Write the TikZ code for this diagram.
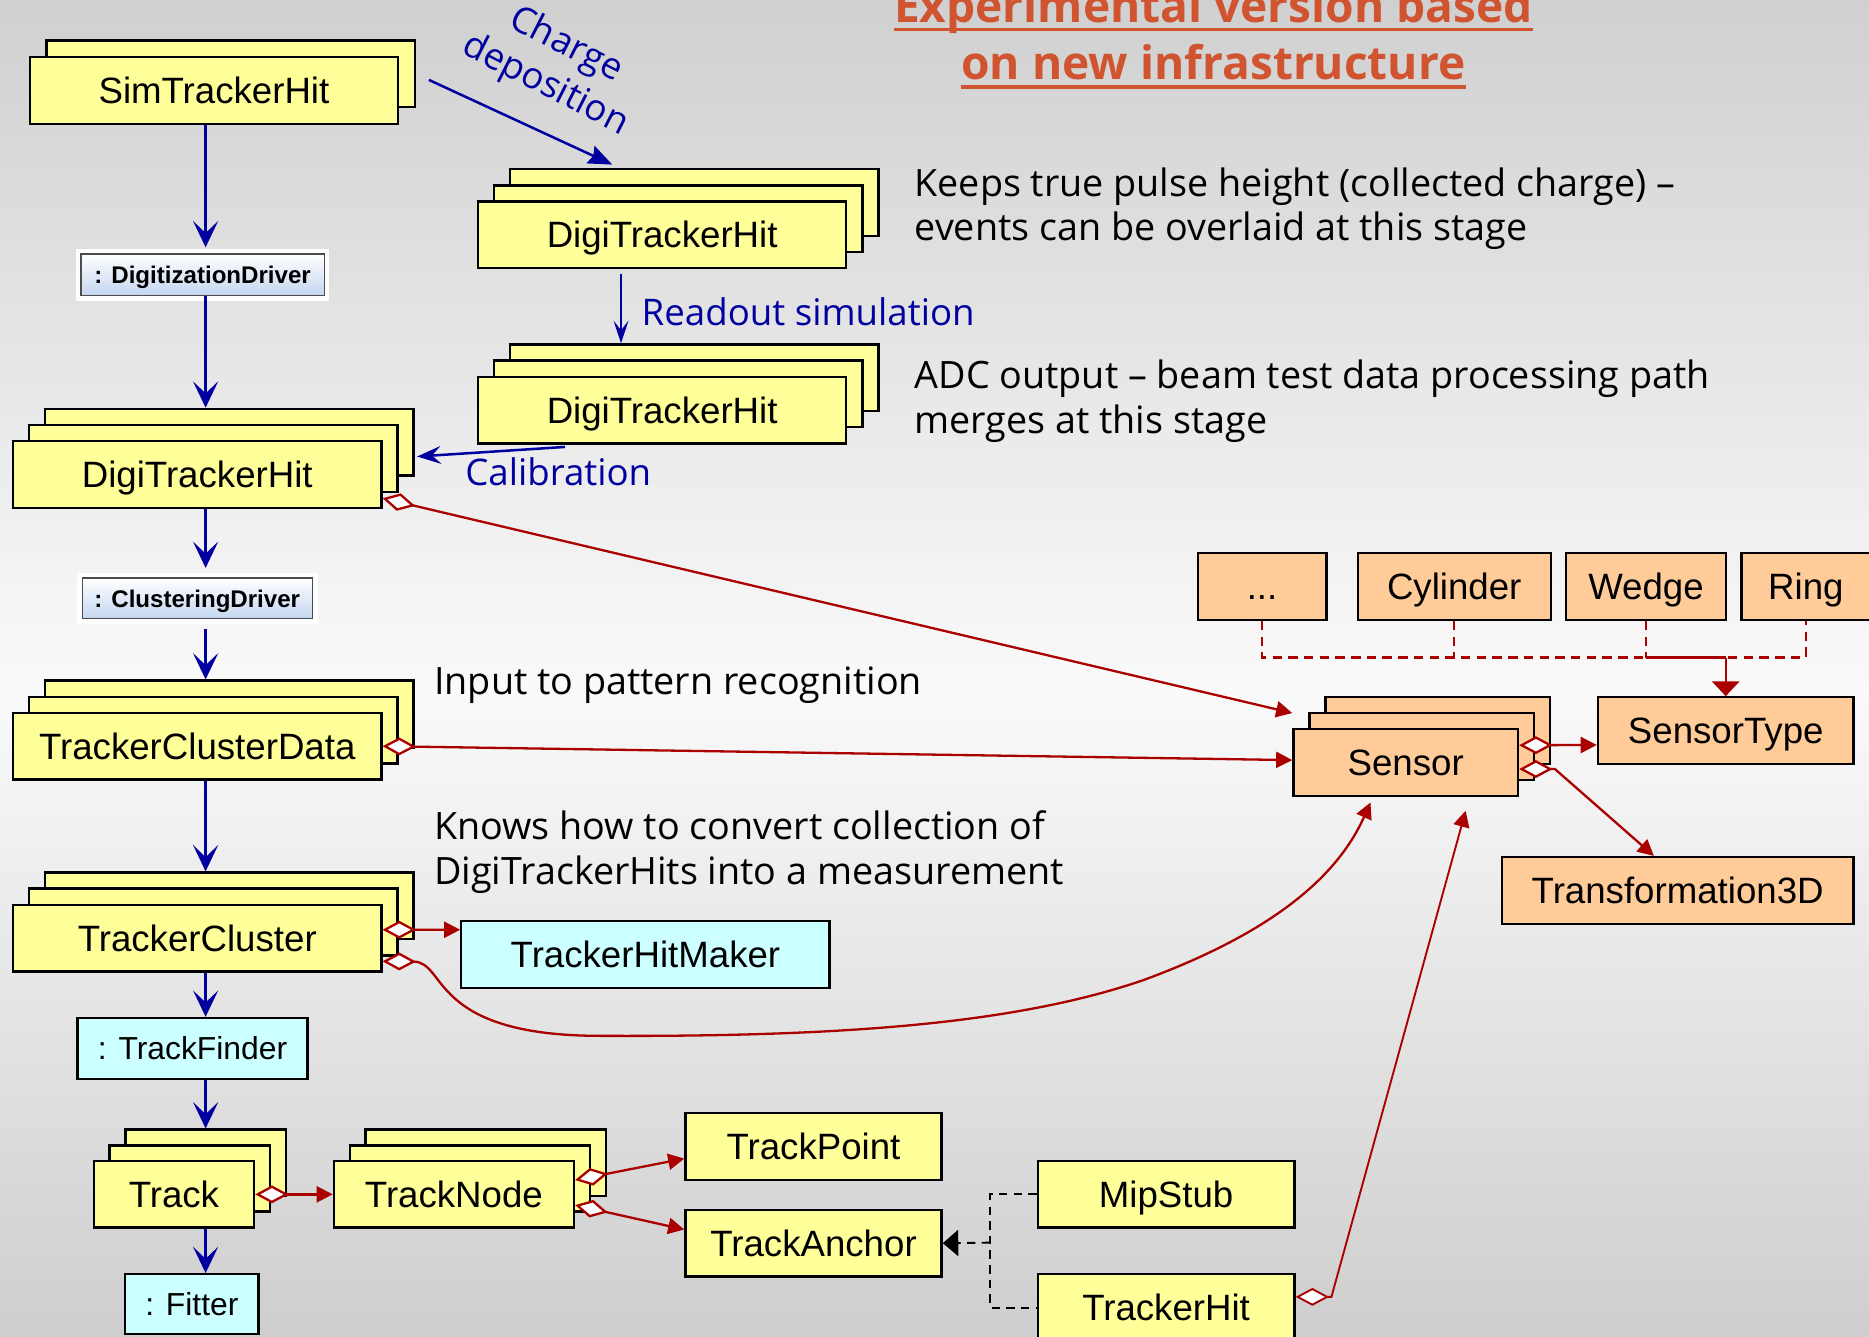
\documentclass[tikz,border=0pt]{standalone}
\usepackage{fontspec}
\setmainfont{Liberation Sans}
\newfontfamily\handfont{Open Sans}
\usetikzlibrary{positioning,arrows.meta}
\definecolor{boxyellow}{RGB}{255,255,153}
\definecolor{boxorange}{RGB}{255,204,153}
\definecolor{boxcyan}{RGB}{204,255,255}
\definecolor{flowblue}{RGB}{0,0,160}
\definecolor{linkred}{RGB}{170,0,0}
\definecolor{titlered}{RGB}{208,84,48}
\definecolor{driverblue}{RGB}{196,214,240}
\definecolor{bgtop}{RGB}{208,208,208}
\definecolor{bgmid}{RGB}{250,250,250}
\definecolor{bgbot}{RGB}{206,206,206}

\begin{document}
\begin{tikzpicture}[x=0.02cm, y=0.02cm]
\tikzstyle{every node}+=[inner sep=0pt]
\tikzstyle{ybox}=[draw=black, line width=1.1pt, fill=boxyellow, font=\fontsize{17.5}{21}\selectfont, text height=12.5pt, text depth=0pt]
\tikzstyle{obox}=[ybox, fill=boxorange]
\tikzstyle{cbox}=[ybox, fill=boxcyan]
\tikzstyle{smallcbox}=[cbox, font=\fontsize{15.2}{18}\selectfont, text height=10.9pt]
\tikzstyle{wide}=[minimum width=6.18cm, minimum height=1.12cm]
\tikzstyle{drvbox}=[draw=black!70, line width=0.6pt, top color=white, bottom color=driverblue, preaction={draw=white, line width=5pt}, font=\bfseries\fontsize{11.5}{14}\selectfont, text height=8.3pt, text depth=0pt]
\tikzstyle{note}=[font=\handfont\fontsize{18}{21}\selectfont, anchor=base west]
\tikzstyle{bluenote}=[note, text=flowblue, font=\handfont\fontsize{17.5}{21}\selectfont]
\tikzstyle{titletext}=[font=\handfont\bfseries\fontsize{22}{26}\selectfont, text=titlered, anchor=base]
\tikzstyle{barrow}=[draw=flowblue, line width=1.5pt, -{Stealth[length=0.44cm,width=0.42cm,inset=0.2cm]}]
\tikzstyle{redlink}=[draw=linkred, line width=1.1pt]
\tikzstyle{aggr}=[redlink, {Diamond[fill=white,length=0.56cm,width=0.3cm]}-{Triangle[length=0.27cm,width=0.27cm]}]
\tikzstyle{reddash}=[redlink, dash pattern=on 4.5pt off 3pt]
\tikzstyle{gendash}=[draw=black, line width=0.9pt, dash pattern=on 4pt off 3pt]

\useasboundingbox (0,0) rectangle (1568,-1121);
\clip (0,0) rectangle (1568,-1121);
\shade[top color=bgtop, bottom color=bgmid] (0,0) rectangle (1568,-580);
\shade[top color=bgmid, bottom color=bgbot] (0,-580) rectangle (1568,-1121);

% title
\node[titletext] (title1) at (1018,-18.5) {Experimental version based};
\node[titletext] (title2) at (1018,-67) {on new infrastructure};
\draw[titlered, line width=1.6pt] ([yshift=-0.12cm]title1.base west) -- ([yshift=-0.12cm]title1.base east);
\draw[titlered, line width=1.6pt] ([yshift=-0.12cm]title2.base west) -- ([yshift=-0.12cm]title2.base east);

% simulation chain
\node[ybox, wide] (simb) at (193.5,-62) {};
\node[ybox, wide] (sim) at (179.5,-76) {SimTrackerHit};
\node[drvbox, minimum width=4.08cm, minimum height=0.7cm] (ddrv) at (170,-230.5) {: DigitizationDriver};

\node[ybox, wide] (dth1c) at (582.5,-170) {};
\node[ybox, wide] (dth1b) at (569,-183.5) {};
\node[ybox, wide] (dth1) at (555.5,-197) {DigiTrackerHit};
\node[ybox, wide] (dth2c) at (582.5,-317) {};
\node[ybox, wide] (dth2b) at (569,-330.5) {};
\node[ybox, wide] (dth2) at (555.5,-344) {DigiTrackerHit};
\node[ybox, wide] (dth3c) at (192.5,-371) {};
\node[ybox, wide] (dth3b) at (179,-384.5) {};
\node[ybox, wide] (dth3) at (165.5,-398) {DigiTrackerHit};

% reconstruction chain
\node[drvbox, minimum width=3.86cm, minimum height=0.68cm] (cdrv) at (165.5,-502) {: ClusteringDriver};
\node[ybox, wide] (tcdc) at (192.5,-599) {};
\node[ybox, wide] (tcdb) at (179,-612.5) {};
\node[ybox, wide] (tcd) at (165.5,-626) {TrackerClusterData};
\node[ybox, wide] (tclc) at (192.5,-760) {};
\node[ybox, wide] (tclb) at (179,-773.5) {};
\node[ybox, wide] (tcl) at (165.5,-787) {TrackerCluster};
\node[cbox, minimum width=6.18cm, minimum height=1.13cm] (thm) at (541.5,-800.75) {TrackerHitMaker};
\node[smallcbox, minimum width=3.86cm, minimum height=1.02cm] (tf) at (161.5,-879.5) {: TrackFinder};
\node[ybox, minimum width=2.69cm, minimum height=1.11cm] (trkc) at (172.5,-975.4) {};
\node[ybox, minimum width=2.69cm, minimum height=1.11cm] (trkb) at (159.2,-988.7) {};
\node[ybox, minimum width=2.69cm, minimum height=1.11cm] (trk) at (145.9,-1002) {Track};
\node[smallcbox, minimum width=2.24cm, minimum height=1.0cm] (fit) at (161,-1094) {: Fitter};
\node[ybox, minimum width=4.03cm, minimum height=1.11cm] (tnc) at (407.4,-975.4) {};
\node[ybox, minimum width=4.03cm, minimum height=1.11cm] (tnb) at (394.1,-988.7) {};
\node[ybox, minimum width=4.03cm, minimum height=1.11cm] (tn) at (380.8,-1002) {TrackNode};
\node[ybox, minimum width=4.3cm, minimum height=1.12cm] (tp) at (682.5,-962) {TrackPoint};
\node[ybox, minimum width=4.3cm, minimum height=1.12cm] (ta) at (682.5,-1043) {TrackAnchor};
\node[ybox, minimum width=4.31cm, minimum height=1.11cm] (mip) at (978.3,-1002) {MipStub};
\node[ybox, minimum width=4.31cm, minimum height=1.12cm] (th) at (978.3,-1097) {TrackerHit};

% geometry
\node[obox, minimum width=3.77cm, minimum height=1.12cm] (senc) at (1206.3,-612.7) {};
\node[obox, minimum width=3.77cm, minimum height=1.12cm] (senb) at (1192.8,-626.2) {};
\node[obox, minimum width=3.77cm, minimum height=1.12cm] (sen) at (1179.3,-639.7) {Sensor};
\node[obox, minimum width=4.29cm, minimum height=1.12cm] (st) at (1447.8,-613) {SensorType};
\node[obox, minimum width=5.9cm, minimum height=1.12cm] (t3d) at (1407.5,-747) {Transformation3D};
\node[obox, minimum width=2.16cm, minimum height=1.12cm] (dots) at (1058.8,-492) {...};
\node[obox, minimum width=3.24cm, minimum height=1.12cm] (cyl) at (1220,-492) {Cylinder};
\node[obox, minimum width=2.69cm, minimum height=1.12cm] (wedge) at (1380.9,-492) {Wedge};
\node[obox, minimum width=2.16cm, minimum height=1.12cm] (ring) at (1515,-492) {Ring};

% notes
\node[note] (keeps) at (767,-165) {Keeps true pulse height (collected charge) –};
\node[note] (overlay) at (767,-202) {events can be overlaid at this stage};
\node[note] (adc) at (767,-325.8) {ADC output – beam test data processing path};
\node[note] (merges) at (767,-363.5) {merges at this stage};
\node[note] (input) at (364,-582.7) {Input to pattern recognition};
\node[note] (knows) at (364,-704) {Knows how to convert collection of};
\node[note] (knowsb) at (364,-741.7) {DigiTrackerHits into a measurement};
\node[bluenote] (readout) at (538,-272.7) {Readout simulation};
\node[bluenote] (calib) at (390,-407) {Calibration};
\node[bluenote, font=\handfont\fontsize{17.5}{21.5}\selectfont, align=center, rotate=-27, anchor=center] (charge) at (466,-55) {Charge\\deposition};

% blue flow
\coordinate (col) at (172.5,0);
\draw[barrow, shorten >=0.1cm] (sim.south -| col) -- (ddrv.north -| col);
\draw[barrow] (ddrv.south -| col) -- (dth3c.north -| col);
\draw[barrow, shorten >=0.16cm] (dth3.south -| col) -- (cdrv.north -| col);
\draw[barrow, shorten <=0.16cm] (cdrv.south -| col) -- (tcdc.north -| col);
\draw[barrow] (tcd.south -| col) -- (tclc.north -| col);
\draw[barrow] (tcl.south -| col) -- (tf.north -| col);
\draw[barrow] (tf.south -| col) -- (trkc.north -| col);
\draw[barrow] (trk.south -| col) -- (fit.north -| col);
\draw[flowblue, line width=1.2pt, -{Stealth[length=0.4cm,width=0.32cm,inset=0.05cm]}, shorten <=0.24cm, shorten >=0.14cm] (simb.east) -- ([xshift=-1.25cm]dth1c.north);
\draw[flowblue, line width=0.8pt, -{Stealth[length=0.38cm,width=0.25cm,inset=0.16cm]}, shorten <=0.08cm] ([xshift=-0.69cm]dth1.south) -- ([xshift=-1.23cm]dth2c.north);
\draw[flowblue, line width=1.2pt, -{Stealth[length=0.4cm,width=0.3cm,inset=0.15cm]}] ([xshift=-1.63cm,yshift=-0.04cm]dth2.south) -- ([xshift=0.04cm,yshift=-0.24cm]dth3c.east);

% red associations
\draw[aggr] ([yshift=-0.4cm]dth3.east) -- ([yshift=0.83cm]sen.west);
\draw[aggr] (tcd.east) -- ([yshift=0.04cm]sen.west);
\draw[aggr] ([yshift=0.14cm]tcl.east) -- ([yshift=0.415cm]thm.west);
\draw[aggr, shorten >=0.1cm] ([yshift=-0.39cm]tcl.east) .. controls (375,-807) and (360,-868) .. (500,-869) .. controls (700,-870) and (850,-860) .. (960,-822) .. controls (1060,-785) and (1120,-740) .. ([xshift=-0.55cm]sen.south);
\draw[aggr] (trk.east) -- (tn.west);
\draw[aggr] ([yshift=0.24cm]tn.east) -- ([yshift=-0.2cm]tp.west);
\draw[aggr] ([yshift=-0.18cm]tn.east) -- ([yshift=0.23cm]ta.west);
\draw[aggr] ([yshift=0.29cm]sen.east) -- ([yshift=-0.24cm]st.west);
\draw[aggr] ([yshift=-0.11cm]sen.east) -- ++(0.6cm,0) -- ([xshift=-0.4cm]t3d.north);
\draw[aggr, line width=0.9pt, shorten >=0.24cm] ([yshift=0.18cm]th.east) -- ++(0.6cm,0) -- ([xshift=1.07cm]sen.south);

% sensor types
\coordinate (merge) at (1447.8,-551.7);
\draw[reddash] (dots.south) -- (dots.south |- merge) -- (ring.south |- merge) -- (ring.south);
\draw[reddash] (cyl.south) -- (cyl.south |- merge);
\draw[reddash] (wedge.south) -- (wedge.south |- merge);
\draw[redlink] (wedge.south |- merge) -- (merge);
\draw[redlink, -{Triangle[length=0.25cm,width=0.46cm]}] (merge) -- (st.north);

% anchors
\coordinate (jn) at (830.6,-1042.5);
\draw[gendash] (mip.west) -- (mip.west -| jn) -- (th.west -| jn) -- (th.west);
\draw[gendash, -{Triangle[length=0.26cm,width=0.44cm]}] (jn) -- (ta.east);
\end{tikzpicture}
\end{document}
